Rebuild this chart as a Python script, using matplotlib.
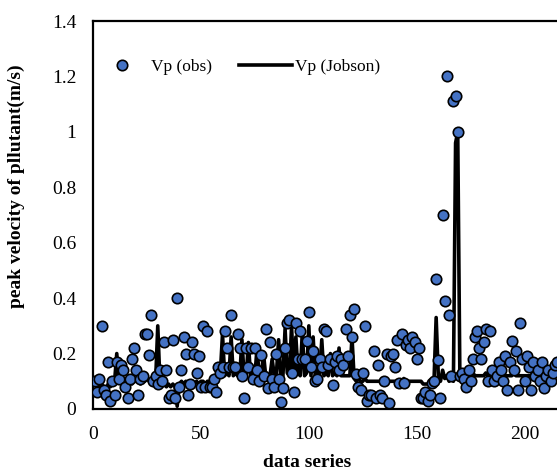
import numpy as np
import matplotlib
matplotlib.use("Agg")
import matplotlib.pyplot as plt

plt.rcParams['font.family'] = ['Liberation Serif', 'DejaVu Serif']

# observed peak velocity, index 1..215
vp_obs = [
    0.10, 0.06, 0.11, 0.30, 0.07, 0.05, 0.17, 0.03, 0.10, 0.05,
    0.17, 0.11, 0.16, 0.14, 0.08, 0.04, 0.11, 0.18, 0.22, 0.14,
    0.05, 0.11, 0.12, 0.27, 0.27, 0.195, 0.34, 0.10, 0.12, 0.09,
    0.14, 0.10, 0.24, 0.14, 0.04, 0.05, 0.25, 0.04, 0.40, 0.08,
    0.14, 0.26, 0.20, 0.05, 0.09, 0.24, 0.20, 0.13, 0.19, 0.08,
    0.30, 0.08, 0.28, 0.08, 0.08, 0.11, 0.06, 0.15, 0.13, 0.15,
    0.28, 0.22, 0.15, 0.34, 0.15, 0.15, 0.27, 0.22, 0.12, 0.04,
    0.22, 0.15, 0.22, 0.11, 0.22, 0.14, 0.10, 0.195, 0.12, 0.29,
    0.075, 0.24, 0.11, 0.08, 0.20, 0.11, 0.025, 0.075, 0.22, 0.31,
    0.32, 0.13, 0.06, 0.31, 0.18, 0.28, 0.18, 0.18, 0.245, 0.35,
    0.15, 0.21, 0.10, 0.11, 0.18, 0.15, 0.29, 0.28, 0.16, 0.18,
    0.085, 0.17, 0.19, 0.14, 0.18, 0.16, 0.29, 0.19, 0.34, 0.26,
    0.36, 0.125, 0.08, 0.07, 0.13, 0.30, 0.03, 0.05, 0.05, 0.21,
    0.04, 0.16, 0.05, 0.04, 0.10, 0.20, 0.02, 0.19, 0.20, 0.15,
    0.25, 0.095, 0.27, 0.095, 0.23, 0.25, 0.22, 0.26, 0.24, 0.18,
    0.22, 0.04, 0.04, 0.06, 0.03, 0.05, 0.095, 0.10, 0.47, 0.175,
    0.04, 0.70, 0.39, 1.20, 0.34, 0.12, 1.11, 1.13, 1.00, 0.12,
    0.13, 0.11, 0.08, 0.14, 0.10, 0.18, 0.26, 0.28, 0.22, 0.18,
    0.24, 0.29, 0.10, 0.28, 0.14, 0.10, 0.12, 0.17, 0.14, 0.10,
    0.19, 0.07, 0.17, 0.245, 0.14, 0.21, 0.07, 0.31, 0.18, 0.10,
    0.19, 0.15, 0.07, 0.17, 0.12, 0.14, 0.10, 0.17, 0.075, 0.12,
    0.14, 0.10, 0.13, 0.16, 0.17,
]

# Jobson model prediction, index 1..215
vp_jobson = [
    0.10, 0.09, 0.08, 0.09, 0.08, 0.07, 0.09, 0.08, 0.09, 0.10,
    0.20, 0.10, 0.09, 0.10, 0.09, 0.10, 0.10, 0.09, 0.10, 0.10,
    0.10, 0.09, 0.10, 0.10, 0.11, 0.10, 0.10, 0.11, 0.10, 0.30,
    0.10, 0.09, 0.09, 0.08, 0.09, 0.08, 0.09, 0.08, 0.01, 0.09,
    0.10, 0.09, 0.10, 0.09, 0.10, 0.10, 0.09, 0.10, 0.09, 0.10,
    0.10, 0.09, 0.10, 0.10, 0.10, 0.11, 0.12, 0.12, 0.13, 0.27,
    0.12, 0.13, 0.12, 0.26, 0.12, 0.13, 0.12, 0.12, 0.25, 0.12,
    0.12, 0.24, 0.12, 0.13, 0.12, 0.22, 0.12, 0.12, 0.20, 0.12,
    0.12, 0.12, 0.18, 0.12, 0.13, 0.25, 0.12, 0.12, 0.29, 0.13,
    0.12, 0.30, 0.12, 0.26, 0.13, 0.12, 0.28, 0.12, 0.13, 0.30,
    0.12, 0.26, 0.12, 0.14, 0.12, 0.25, 0.12, 0.13, 0.12, 0.20,
    0.12, 0.13, 0.12, 0.22, 0.12, 0.12, 0.12, 0.12, 0.12, 0.26,
    0.11, 0.10, 0.11, 0.10, 0.10, 0.11, 0.10, 0.10, 0.10, 0.10,
    0.10, 0.10, 0.10, 0.10, 0.11, 0.10, 0.10, 0.10, 0.10, 0.10,
    0.10, 0.10, 0.10, 0.11, 0.10, 0.10, 0.10, 0.10, 0.10, 0.10,
    0.10, 0.10, 0.09, 0.09, 0.09, 0.09, 0.10, 0.10, 0.33, 0.12,
    0.10, 0.14, 0.11, 0.12, 0.10, 0.11, 0.10, 0.96, 1.00, 0.11,
    0.12, 0.12, 0.12, 0.12, 0.12, 0.13, 0.12, 0.12, 0.12, 0.12,
    0.12, 0.13, 0.12, 0.12, 0.12, 0.12, 0.12, 0.12, 0.13, 0.12,
    0.12, 0.12, 0.12, 0.12, 0.13, 0.12, 0.12, 0.12, 0.12, 0.12,
    0.12, 0.12, 0.12, 0.13, 0.12, 0.12, 0.12, 0.12, 0.12, 0.12,
    0.12, 0.12, 0.12, 0.12, 0.12,
]

x = np.arange(1, len(vp_obs) + 1)

fig = plt.figure(figsize=(5.57, 4.72), dpi=100)
ax = fig.add_axes([0.167, 0.1335, 0.833, 0.822])

ax.plot(x, vp_jobson, color='black', lw=2.6, zorder=2, label='Vp (Jobson)')
ax.plot(x, vp_obs, 'o', ms=7.5, mfc='#4472C4', mec='black', mew=1.2,
        zorder=3, label='Vp (obs)')

ax.set_xlim(0, 215)
ax.set_ylim(0, 1.4)
ax.set_xticks([0, 50, 100, 150, 200])
ax.set_yticks([0, 0.2, 0.4, 0.6, 0.8, 1.0, 1.2, 1.4])
ax.set_yticklabels(['0', '0.2', '0.4', '0.6', '0.8', '1', '1.2', '1.4'])
ax.tick_params(length=0, labelsize=14, pad=12)

for s in ['left', 'bottom', 'top']:
    ax.spines[s].set_linewidth(1.6)
ax.spines['right'].set_visible(False)

ax.set_xlabel('data series', fontsize=14, fontweight='bold')
ax.xaxis.set_label_coords(0.461, -0.115)
ax.set_ylabel('peak velocity of pllutant(m/s)', fontsize=14, fontweight='bold')
ax.yaxis.set_label_coords(-0.147, 0.574)

h, l = ax.get_legend_handles_labels()
ax.legend(h[::-1], l[::-1], ncol=2, frameon=False, fontsize=12.5,
          loc='center left', bbox_to_anchor=(-0.014, 0.881), borderpad=0,
          handlelength=3.05, columnspacing=1.55, handletextpad=0.17)

fig.savefig('out.png', dpi=100)
